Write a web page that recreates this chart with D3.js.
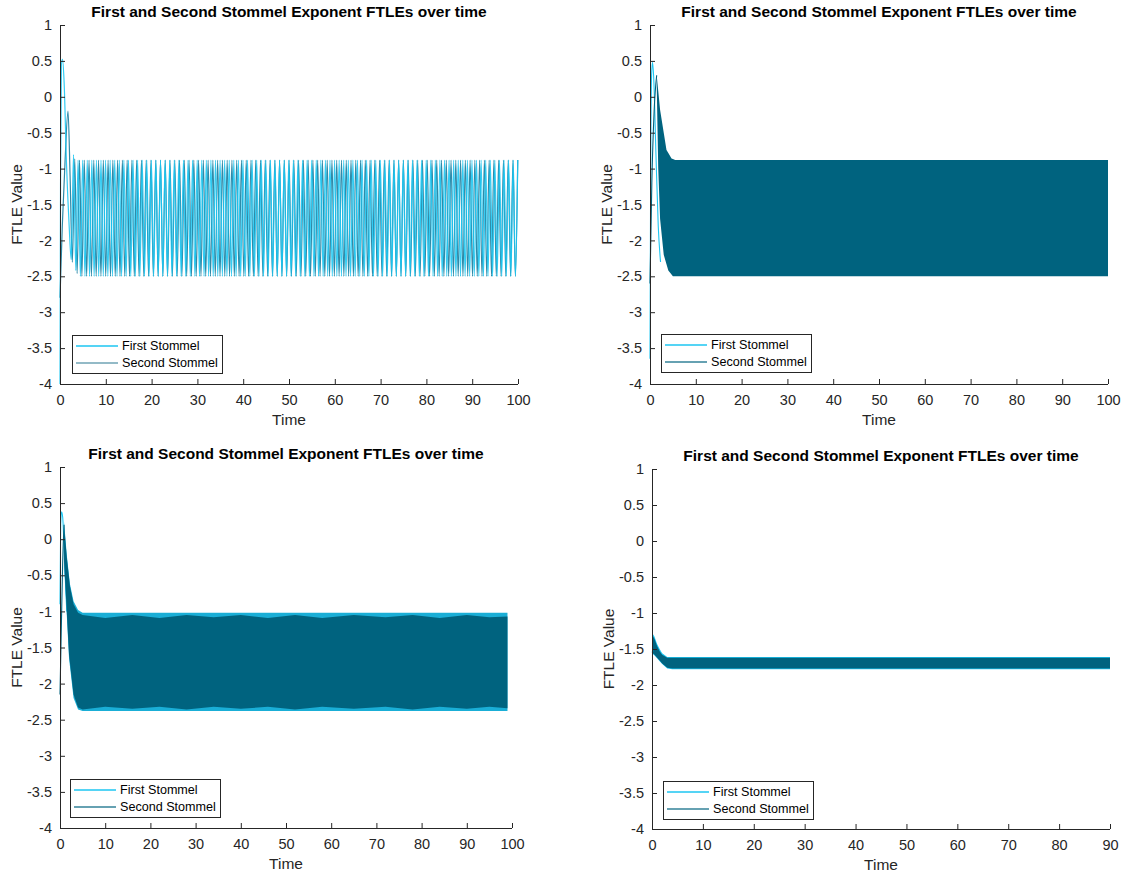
<!DOCTYPE html>
<meta charset="utf-8">
<script src="https://cdn.jsdelivr.net/npm/d3@7"></script>
<style>
  body { margin: 0; background: #fff; }
  svg { font-family: "Liberation Sans", Arial, Helvetica, sans-serif; }
</style>
<div id="chart"></div>
<script>

// ---- data ----
var seriesNames = ["First Stommel", "Second Stommel"];
var titleText = "First and Second Stommel Exponent FTLEs over time";
var yTicks = [-4, -3.5, -3, -2.5, -2, -1.5, -1, -0.5, 0, 0.5, 1];
var xTicks100 = [0, 10, 20, 30, 40, 50, 60, 70, 80, 90, 100];
var xTicks90 = [0, 10, 20, 30, 40, 50, 60, 70, 80, 90];

// panel 1 : start transients [time, value], then visible oscillation
var p1FirstStart = [[0, -4], [0.12, -1.2], [0.3, 0.45], [0.55, 0.52], [0.9, 0.2], [1.4, -0.9], [2.0, -1.8]];
var p1SecondStart = [[0, -2.8], [0.5, -1.8], [1.1, -0.9], [1.75, -0.2], [2.2, -1.1]];
var p1Upper = [[2, -0.6], [3.3, -0.88], [100, -0.88]];   // envelope of the peaks
var p1Lower = [[2, -2.2], [4, -2.5], [100, -2.5]];       // envelope of the troughs
var p1Periods = [1.0, 1.04];
var p1FirstTrough = [2.45, 2.7];
var p1End = 100;

// panel 2 : dense band
var p2FirstStart = [[0, -3.65], [0.15, -1.0], [0.35, 0.3], [0.55, 0.48], [0.8, 0.28], [1.3, -0.8], [1.8, -1.8], [2.3, -2.3]];
var p2SecondStart = [[0, -2.6], [0.4, -1.2], [0.9, -0.2], [1.46, 0.3]];
var p2Upper = [[1.46, 0.3], [2.2, -0.18], [3, -0.5], [3.6, -0.74], [4.7, -0.86], [5.5, -0.88], [100, -0.88]];
var p2Lower = [[1.46, 0.2], [1.8, -1.0], [2.2, -1.7], [3, -2.2], [4, -2.42], [5, -2.5], [100, -2.5]];

// panel 3 : dense band with slow wobble of the inner edges
var p3FirstStart = [[0, -0.9], [0.15, 0.2], [0.35, 0.38], [0.6, 0.3], [1.0, -0.3], [1.5, -1.0]];
var p3SecondStart = [[0, -2.15], [0.3, -1.2], [0.6, -0.3], [0.9, 0.2]];
var p3UpperFirst = [[0.9, 0.24], [1.5, -0.22], [2.2, -0.62], [3, -0.86], [4, -0.98], [5, -1.02], [99, -1.02]];
var p3LowerFirst = [[0.9, -0.32], [1.5, -1.05], [2, -1.65], [3, -2.2], [4, -2.36], [5, -2.38], [99, -2.38]];
var p3Upper = [[0.9, 0.2], [1.5, -0.25], [2.2, -0.65], [3, -0.9], [4, -1.02], [5, -1.05], [10, -1.09], [16, -1.05],
  [22, -1.09], [28, -1.05], [34, -1.08], [40, -1.05], [46, -1.09], [52, -1.05], [58, -1.09], [65, -1.05],
  [72, -1.08], [78, -1.05], [84, -1.09], [90, -1.05], [95, -1.08], [99, -1.07]];
var p3Lower = [[0.9, -0.3], [1.5, -1.0], [2, -1.6], [3, -2.15], [4, -2.33], [5, -2.36], [10, -2.32], [16, -2.35],
  [22, -2.32], [28, -2.36], [34, -2.32], [40, -2.35], [46, -2.32], [52, -2.36], [58, -2.32], [65, -2.35],
  [72, -2.32], [78, -2.36], [84, -2.32], [90, -2.35], [95, -2.32], [99, -2.34]];
var p3End = 99;

// panel 4 : thin band
var p4FirstStart = [[0, -1.55], [0.2, -1.52]];
var p4UpperFirst = [[0, -1.27], [0.5, -1.33], [1, -1.43], [1.5, -1.5], [2, -1.56], [3, -1.61], [90, -1.61]];
var p4LowerFirst = [[0, -1.56], [0.5, -1.59], [1, -1.63], [2, -1.71], [3, -1.77], [4, -1.78], [90, -1.78]];
var p4Upper = [[0, -1.3], [0.5, -1.36], [1, -1.46], [1.5, -1.53], [2, -1.58], [3, -1.62], [90, -1.62]];
var p4Lower = [[0, -1.55], [0.5, -1.58], [1, -1.62], [2, -1.7], [3, -1.76], [4, -1.77], [90, -1.77]];

// ---- colours and layout ----
var cyan = "#1cc6f2";
var teal = "#00637f";
var greyTeal = "#2f8aa8";

var svg = d3.select("#chart").append("svg")
  .attr("width", 1124)
  .attr("height", 878);

var panels = [
  {L: 60, R: 518, T: 25, B: 384, xMax: 100, xTicks: xTicks100, legend: [72, 335], second: "#6fa3b4"},
  {L: 650, R: 1108, T: 25, B: 384, xMax: 100, xTicks: xTicks100, legend: [661, 334], second: teal},
  {L: 60, R: 512, T: 467, B: 828, xMax: 100, xTicks: xTicks100, legend: [70, 779], second: teal},
  {L: 652, R: 1110, T: 469, B: 829, xMax: 90, xTicks: xTicks90, legend: [663, 781], second: teal}
];

function envelope(knots) {
  return d3.scaleLinear()
    .domain(knots.map(function(d) { return d[0]; }))
    .range(knots.map(function(d) { return d[1]; }))
    .clamp(true);
}

// turning points of the oscillation, alternating trough / peak every half period
function turningPoints(start, end, period, upper, lower) {
  var up = envelope(upper), lo = envelope(lower);
  var pts = [], k = 0;
  for (var t = start; t <= end; t += period / 2, k++) {
    pts.push([t, k % 2 === 0 ? lo(t) : up(t)]);
  }
  return pts;
}

function makePanel(p) {
  var x = d3.scaleLinear().domain([0, p.xMax]).range([p.L, p.R]);
  var y = d3.scaleLinear().domain([-4, 1]).range([p.B, p.T]);
  var g = svg.append("g");
  var plot = g.append("g");

  var line = d3.line()
    .x(function(d) { return x(d[0]); })
    .y(function(d) { return y(d[1]); })
    .curve(d3.curveMonotoneX);

  var band = function(upper, lower) {
    var up = envelope(upper), lo = envelope(lower);
    var ts = d3.merge([upper.map(function(d) { return d[0]; }), lower.map(function(d) { return d[0]; })]);
    ts = Array.from(new Set(ts)).sort(d3.ascending);
    return d3.area()
      .x(function(t) { return x(t); })
      .y0(function(t) { return y(lo(t)); })
      .y1(function(t) { return y(up(t)); })(ts);
  };

  // axes
  var xAxis = d3.axisBottom(x).tickValues(p.xTicks).tickSizeInner(-5).tickSizeOuter(0).tickPadding(11)
    .tickFormat(function(d) { return String(d); });
  var yAxis = d3.axisLeft(y).tickValues(yTicks).tickSizeInner(-5).tickSizeOuter(0).tickPadding(8)
    .tickFormat(function(d) { return String(d); });

  var gx = g.append("g").attr("transform", "translate(0," + p.B + ")").call(xAxis);
  var gy = g.append("g").attr("transform", "translate(" + p.L + ",0)").call(yAxis);
  [gx, gy].forEach(function(a) {
    a.selectAll("path, line").attr("stroke", "#262626").attr("stroke-width", 1);
    a.selectAll("text").attr("fill", "#262626").style("font-size", "14.5px");
  });
  gx.select(".domain").attr("d", "M" + p.L + ",0.5H" + p.R);

  g.append("text")
    .attr("x", (p.L + p.R) / 2).attr("y", p.T - 8)
    .attr("text-anchor", "middle")
    .style("font-size", "15.5px").style("font-weight", "bold")
    .attr("fill", "#000")
    .text(titleText);

  g.append("text")
    .attr("x", (p.L + p.R) / 2).attr("y", p.B + 41)
    .attr("text-anchor", "middle")
    .style("font-size", "15.5px").attr("fill", "#262626")
    .text("Time");

  g.append("text")
    .attr("transform", "translate(" + (p.L - 38) + "," + ((p.T + p.B) / 2) + ") rotate(-90)")
    .attr("text-anchor", "middle")
    .style("font-size", "15.5px").attr("fill", "#262626")
    .text("FTLE Value");

  // legend
  var lg = g.append("g").attr("transform", "translate(" + p.legend[0] + "," + p.legend[1] + ")");
  lg.append("rect").attr("x", 0.5).attr("y", 0.5).attr("width", 150).attr("height", 38)
    .attr("fill", "#fff").attr("stroke", "#262626").attr("stroke-width", 1);
  [cyan, p.second].forEach(function(c, i) {
    var yy = 11 + i * 17;
    lg.append("line").attr("x1", 4).attr("x2", 46).attr("y1", yy).attr("y2", yy)
      .attr("stroke", c).attr("stroke-width", 1.3).attr("opacity", i === 1 && c === teal ? 0.8 : 1);
    lg.append("text").attr("x", 50).attr("y", yy + 4)
      .style("font-size", "12.6px").attr("fill", "#000")
      .text(seriesNames[i]);
  });

  return {plot: plot, x: x, y: y, line: line, band: band, legend: lg};
}

var a1 = makePanel(panels[0]);
var a2 = makePanel(panels[1]);
var a3 = makePanel(panels[2]);
var a4 = makePanel(panels[3]);

// panel 1: individual oscillations visible
var p1First = p1FirstStart.concat(turningPoints(p1FirstTrough[0], p1End, p1Periods[0], p1Upper, p1Lower));
var p1Second = p1SecondStart.concat(turningPoints(p1FirstTrough[1], p1End, p1Periods[1], p1Upper, p1Lower));
a1.plot.append("path").attr("d", a1.line(p1Second))
  .attr("fill", "none").attr("stroke", greyTeal).attr("stroke-width", 1.2);
a1.plot.append("path").attr("d", a1.line(p1First))
  .attr("fill", "none").attr("stroke", cyan).attr("stroke-width", 1.2).attr("opacity", 0.9);

// panel 2
a2.plot.append("path").attr("d", a2.line(p2FirstStart))
  .attr("fill", "none").attr("stroke", cyan).attr("stroke-width", 1.1);
a2.plot.append("path").attr("d", a2.band(p2Upper, p2Lower)).attr("fill", teal);
a2.plot.append("path").attr("d", a2.line(p2SecondStart))
  .attr("fill", "none").attr("stroke", teal).attr("stroke-width", 1.1);

// panel 3
a3.plot.append("path").attr("d", a3.line(p3FirstStart))
  .attr("fill", "none").attr("stroke", cyan).attr("stroke-width", 1.1);
a3.plot.append("path").attr("d", a3.band(p3UpperFirst, p3LowerFirst)).attr("fill", "#1aaed6");
a3.plot.append("path").attr("d", a3.band(p3Upper, p3Lower)).attr("fill", teal);
a3.plot.append("path").attr("d", a3.line(p3SecondStart))
  .attr("fill", "none").attr("stroke", teal).attr("stroke-width", 1.1);

// panel 4
a4.plot.append("path").attr("d", a4.band(p4UpperFirst, p4LowerFirst)).attr("fill", cyan);
a4.plot.append("path").attr("d", a4.band(p4Upper, p4Lower)).attr("fill", teal);
a4.plot.append("path").attr("d", a4.line(p4FirstStart))
  .attr("fill", "none").attr("stroke", cyan).attr("stroke-width", 1.1);

</script>
